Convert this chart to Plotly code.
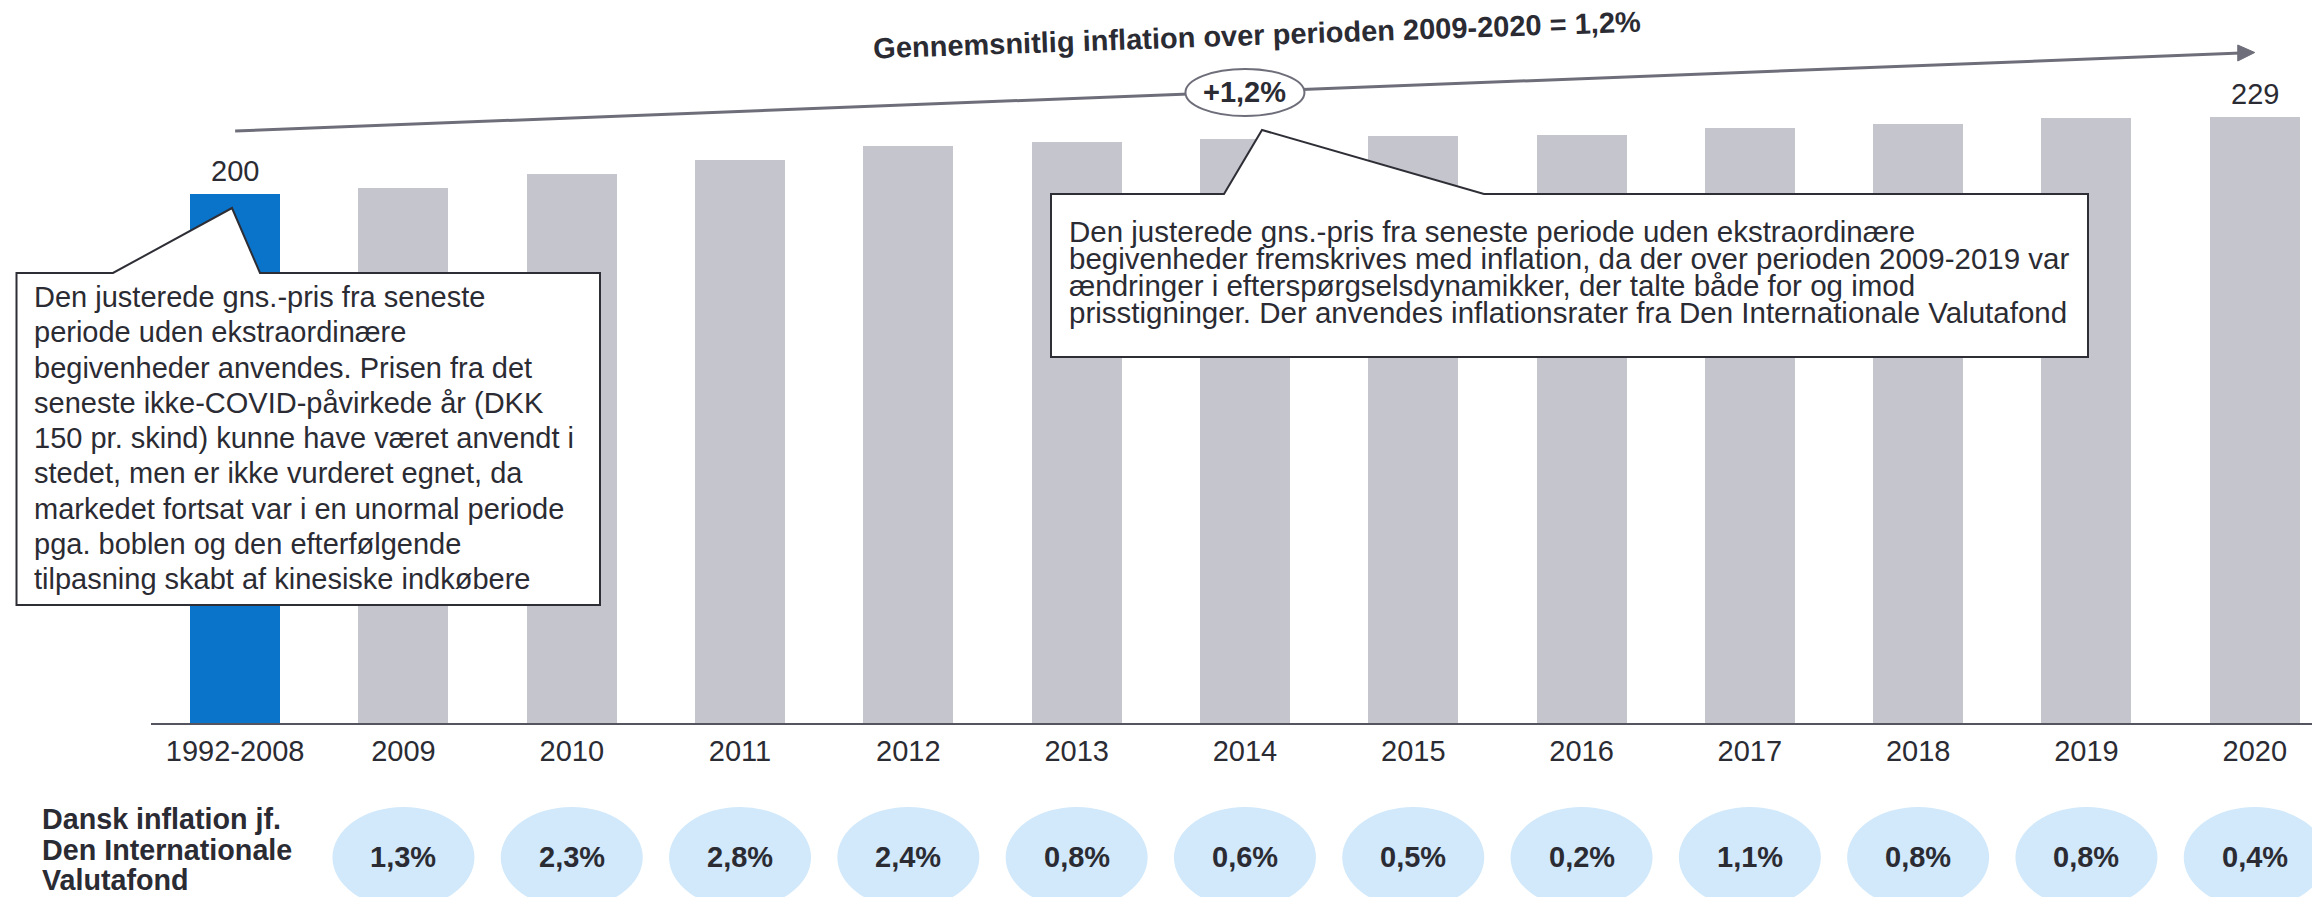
import plotly.graph_objects as go

# ---------------- data ----------------
categories = ["1992-2008", "2009", "2010", "2011", "2012", "2013", "2014",
              "2015", "2016", "2017", "2018", "2019", "2020"]
prices = [200, 202.3, 207.3, 212.9, 218.0, 219.6, 220.8, 221.8, 222.3,
          224.8, 226.5, 228.6, 229]
value_labels = ["200", "", "", "", "", "", "", "", "", "", "", "", "229"]
inflation_years = ["2009", "2010", "2011", "2012", "2013", "2014", "2015",
                   "2016", "2017", "2018", "2019", "2020"]
inflation_rates = ["1,3%", "2,3%", "2,8%", "2,4%", "0,8%", "0,6%", "0,5%",
                   "0,2%", "1,1%", "0,8%", "0,8%", "0,4%"]
avg_label = "+1,2%"
avg_year = "2014"
title_text = "Gennemsnitlig inflation over perioden 2009-2020 = 1,2%"
row_label = ["Dansk inflation jf.", "Den Internationale", "Valutafond"]
left_note = [
    "Den justerede gns.-pris fra seneste",
    "periode uden ekstraordinære",
    "begivenheder anvendes. Prisen fra det",
    "seneste ikke-COVID-påvirkede år (DKK",
    "150 pr. skind) kunne have været anvendt i",
    "stedet, men er ikke vurderet egnet, da",
    "markedet fortsat var i en unormal periode",
    "pga. boblen og den efterfølgende",
    "tilpasning skabt af kinesiske indkøbere",
]
right_note = [
    "Den justerede gns.-pris fra seneste periode uden ekstraordinære",
    "begivenheder fremskrives med inflation, da der over perioden 2009-2019 var",
    "ændringer i efterspørgselsdynamikker, der talte både for og imod",
    "prisstigninger. Der anvendes inflationsrater fra Den Internationale Valutafond",
]

# ---------------- style / layout ----------------
OFF = 8                      # page body margin in the browser
W, H = 2320 - OFF, 897 - OFF
REF_L = 151                  # plot left edge (reference pixels)
REF_AX = 723                 # axis line y (reference pixels)
L = REF_L - OFF
AX_Y = REF_AX - OFF
PLOT_W = W - L
STEP = 168.3
PX_PER_UNIT = 2.646
FONT = "Arial, Liberation Sans, sans-serif"
TXT = "#2b2b33"
BLUE = "#0A74CB"
GREY = "#C4C5CD"
LINE = "#6e6e7a"
BOX = "#2e2e36"
PILL = "#D1E9FB"


def px(x):
    """reference pixel x -> paper x"""
    return (x - REF_L) / PLOT_W


def py(y):
    """reference pixel y -> paper y"""
    return (REF_AX - y) / AX_Y


cat_idx = {c: i for i, c in enumerate(categories)}
colors = [BLUE] + [GREY] * (len(categories) - 1)

fig = go.Figure()
fig.add_bar(x=categories, y=prices, marker_color=colors, marker_line_width=0,
            width=0.535, hoverinfo="skip")

shapes = []
annotations = []

# trend arrow line
tip_x = REF_L + (cat_idx["2020"] + 0.5) * STEP
tip_y = 52.5
start_y = 131
shapes.append(dict(type="line", xref="x", yref="paper",
                   x0=cat_idx["1992-2008"], y0=py(start_y),
                   x1=cat_idx["2020"] - 14 / STEP, y1=py(tip_y + 0.6),
                   line=dict(color=LINE, width=3), layer="above"))
shapes.append(dict(type="path", xref="paper", yref="paper",
                   path=f"M {px(tip_x)} {py(tip_y)} L {px(tip_x-17)} {py(tip_y-7.5)} "
                        f"L {px(tip_x-17)} {py(tip_y+8.5)} Z",
                   fillcolor=LINE, line=dict(color=LINE, width=1), layer="above"))
# +1,2% ellipse
ai = cat_idx[avg_year]
shapes.append(dict(type="circle", xref="x", yref="paper",
                   x0=ai - 59.5 / STEP, x1=ai + 59.5 / STEP,
                   y0=py(116), y1=py(69), fillcolor="white",
                   line=dict(color=LINE, width=2), layer="above"))


# callout boxes
def poly(pts):
    return "M " + " L ".join(f"{px(a)} {py(b)}" for a, b in pts) + " Z"


shapes.append(dict(type="path", xref="paper", yref="paper",
                   path=poly([(16.5, 273), (113, 273), (232, 208), (260, 273),
                              (600, 273), (600, 605), (16.5, 605)]),
                   fillcolor="white", line=dict(color=BOX, width=2), layer="above"))
shapes.append(dict(type="path", xref="paper", yref="paper",
                   path=poly([(1051, 194), (1224, 194), (1262, 130), (1484, 194),
                              (2088, 194), (2088, 357), (1051, 357)]),
                   fillcolor="white", line=dict(color=BOX, width=2), layer="above"))

# inflation pills
for yr, rate in zip(inflation_years, inflation_rates):
    i = cat_idx[yr]
    shapes.append(dict(type="circle", xref="x", yref="paper",
                       x0=i - 71 / STEP, x1=i + 71 / STEP,
                       y0=py(908), y1=py(807), fillcolor=PILL,
                       line=dict(width=0), layer="above"))
    annotations.append(dict(x=i, xref="x", y=py(857), yref="paper",
                            text=f"<b>{rate}</b>", showarrow=False,
                            font=dict(family=FONT, size=29, color=TXT),
                            xanchor="center", yanchor="middle"))

# title
annotations.append(dict(x=px(1257), y=py(35), xref="paper", yref="paper",
                        text=f"<b>{title_text}</b>", showarrow=False, textangle=-2,
                        font=dict(family=FONT, size=29, color=TXT),
                        xanchor="center", yanchor="middle"))
annotations.append(dict(x=ai, xref="x", y=py(92), yref="paper",
                        text=f"<b>{avg_label}</b>", showarrow=False,
                        font=dict(family=FONT, size=29, color=TXT),
                        xanchor="center", yanchor="middle"))

# value labels
for c, v, t in zip(categories, prices, value_labels):
    if t:
        annotations.append(dict(x=cat_idx[c], xref="x", y=v, yref="y", text=t,
                                showarrow=False, yshift=23,
                                font=dict(family=FONT, size=29, color=TXT),
                                xanchor="center", yanchor="middle"))

# notes
for k, line in enumerate(left_note):
    annotations.append(dict(x=px(32), y=py(297 + k * 35.3), xref="paper", yref="paper",
                            text=line, showarrow=False, xanchor="left", yanchor="middle",
                            font=dict(family=FONT, size=29, color=TXT)))
for k, line in enumerate(right_note):
    annotations.append(dict(x=px(1067), y=py(231 + k * 27.3), xref="paper", yref="paper",
                            text=line, showarrow=False, xanchor="left", yanchor="middle",
                            font=dict(family=FONT, size=29.5, color=TXT)))
for k, line in enumerate(row_label):
    annotations.append(dict(x=px(40), y=py(819 + k * 30.5), xref="paper", yref="paper",
                            text=f"<b>{line}</b>", showarrow=False, xanchor="left",
                            yanchor="middle",
                            font=dict(family=FONT, size=28.7, color=TXT)))

fig.update_layout(
    width=W, height=H,
    margin=dict(l=L, r=0, t=0, b=H - AX_Y, pad=0),
    paper_bgcolor="white", plot_bgcolor="white",
    showlegend=False,
    shapes=shapes, annotations=annotations,
    bargap=0,
    xaxis=dict(type="category", range=[-0.5, -0.5 + PLOT_W / STEP],
               showline=True, linecolor="#55555f", linewidth=2,
               ticks="", showgrid=False, zeroline=False,
               tickfont=dict(family=FONT, size=29, color=TXT),
               ticklabelstandoff=1, fixedrange=True),
    yaxis=dict(visible=False, range=[0, AX_Y / PX_PER_UNIT], fixedrange=True),
)

fig.write_html("out.html")
